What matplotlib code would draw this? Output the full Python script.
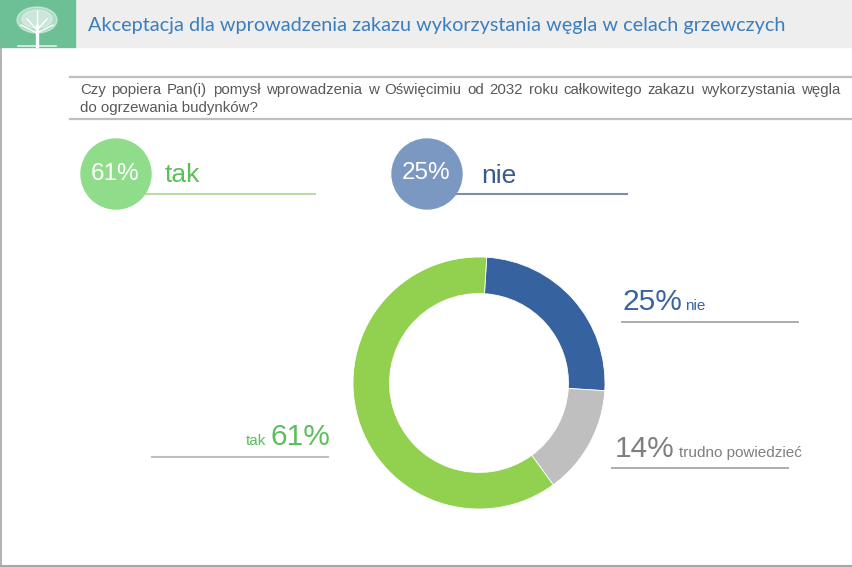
import matplotlib
matplotlib.use("Agg")
import matplotlib.pyplot as plt
from matplotlib.patches import Rectangle, Circle, Ellipse

# ---- data ----
categories = ["nie", "trudno powiedzieć", "tak"]
values = [25, 14, 61]
colors = ["#36629f", "#bfbfbf", "#92d050"]

title = "Akceptacja dla wprowadzenia zakazu wykorzystania węgla w celach grzewczych"
question_lines = [
    "Czy popiera Pan(i) pomysł wprowadzenia w Oświęcimiu od 2032 roku całkowitego zakazu wykorzystania węgla",
    "do ogrzewania budynków?",
]

W, H = 852, 567
fig = plt.figure(figsize=(W / 100, H / 100), dpi=100)
bg = fig.add_axes([0, 0, 1, 1])
bg.set_xlim(0, W)
bg.set_ylim(H, 0)
bg.axis("off")

# header band + logo
bg.add_patch(Rectangle((75, 0), W - 75, 47, color="#eeeeee", zorder=1))
bg.add_patch(Rectangle((0, 0), 75, 47, color="#6dbf96", zorder=1))
# simple tree icon
bg.add_patch(Ellipse((37, 20), 40, 26, color="white", alpha=0.45, zorder=2))
bg.add_patch(Ellipse((37, 19), 30, 18, color="white", alpha=0.35, zorder=2))
bg.plot([37, 37], [46, 26], color="white", lw=2.4, zorder=3)
for (x0, y0, x1, y1) in [(37, 30, 27, 19), (37, 30, 47, 19), (37, 33, 21, 25), (37, 33, 53, 25), (37, 28, 37, 11)]:
    bg.plot([x0, x1], [y0, y1], color="white", lw=1.0, zorder=3)
bg.plot([18, 56], [46, 46], color="white", lw=1.2, alpha=0.8, zorder=3)

bg.text(88, 25, title, fontsize=14.3, color="#3a7ebf", family=["Lato", "DejaVu Sans"],
        va="center", ha="left", zorder=3)

# frame
bg.plot([1, 1], [47, H - 1.5], color="#a6a6a6", lw=1.2)
bg.plot([1, W], [H - 1.5, H - 1.5], color="#a6a6a6", lw=1.5)

# question with lines
bg.plot([70, W], [77, 77], color="#bfbfbf", lw=1.6)
bg.plot([70, W], [119, 119], color="#bfbfbf", lw=1.6)

qfont = dict(fontsize=10.8, color="#595959", family=["Liberation Sans", "DejaVu Sans"], va="center", ha="left")
fig.canvas.draw()
renderer = fig.canvas.get_renderer()
inv = bg.transData.inverted()

def width_px(s):
    t = bg.text(0, 0, s, **qfont)
    bb = t.get_window_extent(renderer)
    t.remove()
    return bb.width

# justified first line
words = question_lines[0].split(" ")
ws = [width_px(w) for w in words]
x_left, x_right = 80, 840
gap = (x_right - x_left - sum(ws)) / (len(words) - 1)
x = x_left
for w, wd in zip(words, ws):
    bg.text(x, 90, w, **qfont)
    x += wd + gap
bg.text(x_left, 108, question_lines[1], **qfont)

# top summary circles
sans = ["Liberation Sans", "DejaVu Sans"]
bg.add_patch(Circle((116, 174), 35, color="#8fdc8a", zorder=3))
bg.text(115, 174, "61%", fontsize=17.5, color="white", family=sans, ha="center", va="center", zorder=4)
bg.plot([143, 315], [194, 194], color="#b9dca6", lw=1.5, zorder=2)
bg.text(165, 175, "tak", fontsize=19, color="#5cbf5c", family=sans, ha="left", va="center")

bg.add_patch(Circle((427, 174), 35, color="#7b98c2", zorder=3))
bg.text(426.5, 173, "25%", fontsize=17.5, color="white", family=sans, ha="center", va="center", zorder=4)
bg.plot([455, 627], [194, 194], color="#7a8ea8", lw=1.5, zorder=2)
bg.text(481, 176, "nie", fontsize=19, color="#3a5a8c", family=sans, ha="left", va="center")

# donut
cx, cy, R = 479, 383, 126
pax = fig.add_axes([(cx - R) / W, (H - cy - R) / H, 2 * R / W, 2 * R / H])
pax.pie(values, colors=colors, startangle=86.5, counterclock=False,
        wedgeprops=dict(width=0.29, edgecolor="white", linewidth=0.6))
pax.set_xlim(-1, 1)
pax.set_ylim(-1, 1)
pax.set_aspect("auto")
pax.axis("off")

# donut labels
big = 21.5
small = 11
# nie
t = bg.text(622, 310, f"{values[0]}%", fontsize=big, color="#3a64a0", family=sans, ha="left", va="baseline")
bb = t.get_window_extent(renderer)
xe = inv.transform((bb.x1, 0))[0]
bg.text(xe + 3, 310, categories[0], fontsize=small, color="#3a64a0", family=sans, ha="left", va="baseline")
bg.plot([622, 798], [322, 322], color="#a6a6a6", lw=1.3)
# trudno
t = bg.text(615, 457, f"{values[1]}%", fontsize=big, color="#7f7f7f", family=sans, ha="left", va="baseline")
bb = t.get_window_extent(renderer)
xe = inv.transform((bb.x1, 0))[0]
bg.text(xe + 4, 457, categories[1], fontsize=small, color="#7f7f7f", family=sans, ha="left", va="baseline")
bg.plot([612, 788], [468, 468], color="#a6a6a6", lw=1.3)
# tak
t = bg.text(330, 445, f"{values[2]}%", fontsize=big, color="#5cbf5c", family=sans, ha="right", va="baseline")
bb = t.get_window_extent(renderer)
xs = inv.transform((bb.x0, 0))[0]
bg.text(xs - 4, 445, categories[2], fontsize=small, color="#5cbf5c", family=sans, ha="right", va="baseline")
bg.plot([152, 328], [457, 457], color="#bfbfbf", lw=1.5)

fig.savefig("out.png", dpi=100)
